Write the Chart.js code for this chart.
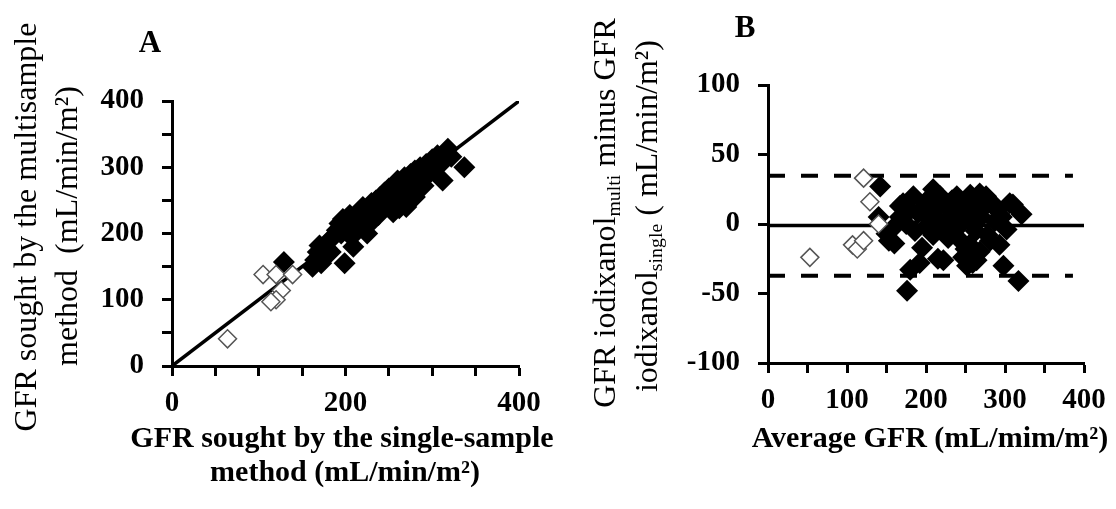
<!DOCTYPE html>
<html>
<head>
<meta charset="utf-8">
<script src="https://cdn.jsdelivr.net/npm/chart.js@4.4.0/dist/chart.umd.min.js"></script>
<style>
  body { margin: 0; background: #fff; width: 1116px; height: 509px; position: relative; overflow: hidden;
         font-family: 'Liberation Serif', 'Times New Roman', serif; color: #000; }
  canvas { position: absolute; top: 0; }
  .t { position: absolute; white-space: nowrap; transform: translate(-50%, -50%); }
  .r { transform: translate(-50%, -50%) rotate(-90deg); font-size: 32px; }
  .b { font-weight: bold; font-size: 30px; }
  .lab { font-weight: bold; font-size: 31px; }
  sub { font-size: 0.62em; vertical-align: -0.3em; line-height: 0; }
</style>
</head>
<body>
<canvas id="chartA" width="560" height="509" style="left:0"></canvas>
<canvas id="chartB" width="556" height="509" style="left:560px"></canvas>

<div class="t lab" style="left:150px;top:42px">A</div>
<div class="t r" style="left:25px;top:227px">GFR sought by the multisample</div>
<div class="t r" style="left:66px;top:226px">method&nbsp; (mL/min/m²)</div>
<div class="t b" style="left:342px;top:437px">GFR sought by the single-sample</div>
<div class="t b" style="left:345px;top:471px">method (mL/min/m²)</div>

<div class="t lab" style="left:745px;top:27px">B</div>
<div class="t r" style="left:604px;top:213px">GFR iodixanol<sub>multi</sub> minus GFR</div>
<div class="t r" style="left:646px;top:216px">iodixanol<sub>single</sub> ( mL/min/m²)</div>
<div class="t b" style="left:930px;top:437px">Average GFR (mL/mim/m²)</div>

<script>
// Panel A : single-sample GFR (x) vs multisample GFR (y)
const aHollowX = [64, 105, 120, 139, 126, 120, 114];
const aHollowY = [41, 138, 138, 138, 114, 100, 97];

const aFilledX = [162, 165, 168, 170, 172, 175, 178, 180, 183, 186, 190, 193, 195, 197, 199, 200, 203, 205, 207, 209,
                  210, 213, 215, 218, 220, 223, 225, 228, 230, 232, 235, 238, 240, 243, 245, 248, 250, 252, 255, 258,
                  260, 262, 265, 268, 270, 272, 275, 278, 280, 283, 286, 290, 293, 296, 300, 303, 306, 310, 312, 315,
                  318, 322, 337, 129, 270, 265, 255, 280];
const aFilledY = [150, 160, 172, 182, 155, 168, 178, 188, 172, 195, 205, 215, 200, 222, 155, 210, 218, 228, 195, 180,
                  205, 220, 232, 212, 240, 225, 200, 215, 246, 232, 250, 228, 255, 240, 262, 250, 268, 245, 258, 270,
                  280, 238, 265, 285, 250, 275, 290, 268, 295, 282, 300, 272, 305, 290, 312, 298, 318, 305, 280, 322,
                  328, 316, 300, 157, 240, 245, 232, 255];

const identityLine = [0, 400];

// Panel B : Bland-Altman, average GFR (x) vs difference (y)
const bHollowX = [53, 107, 113, 121, 121, 129, 140];
const bHollowY = [-24, -15, -18, -12, 33, 16, 0];

const bFilledX = [142, 140, 176, 317, 298, 209, 321, 306, 268, 150, 153, 160, 167, 167, 171, 175, 180, 184, 186, 190,
                  192, 195, 198, 200, 203, 205, 209, 212, 215, 218, 220, 222, 225, 228, 230, 233, 236, 239, 241, 244,
                  247, 249, 252, 254, 256, 259, 261, 263, 265, 268, 270, 273, 276, 278, 281, 284, 287, 290, 293, 296,
                  302, 310, 245, 235, 255, 250, 264, 200, 180, 158];
const bFilledY = [27, 5, -48, -41, -30, 25, 7, 15, 22, -7, -12, -14, 5, 13, 15, 0, -33, 20, -5, 8,
                  -28, -17, 12, -2, 18, 3, -8, 10, -25, 20, 0, -26, 13, -10, 5, 17, -3, 20, 8, -12,
                  -24, 14, -30, 3, 21, -28, 10, -5, 18, -20, 5, 12, 20, -8, -12, 15, 2, 10, -15, 5,
                  -4, 14, 0, 10, -15, -18, -26, 15, 10, -3];

const meanDiff = -1;
const upperLimit = 34.8;
const lowerLimit = -37.2;
const bMeanXRange = [0, 400];
const bLimitXRange = [0, 386];

function pairs(xs, ys) {
    return xs.map((x, i) => ({ x: x, y: ys[i] }));
}

const tickFont = { family: "'Liberation Serif', 'Times New Roman', serif", size: 29, weight: 'bold' };

function axis(min, max, labelEvery, fixedSize, isX) {
    return {
        type: 'linear',
        min: min,
        max: max,
        border: { display: true, color: '#000', width: 3 },
        grid: { drawOnChartArea: false, drawTicks: true, tickLength: 10, tickWidth: 3, tickColor: '#000' },
        ticks: {
            stepSize: 50,
            autoSkip: false,
            maxRotation: 0,
            color: '#000',
            font: tickFont,
            padding: isX ? 10 : 18,
            callback: function(v) { return v % labelEvery === 0 ? String(v) : ''; }
        },
        afterFit: function(scale) {
            if (isX) { scale.height = fixedSize; } else { scale.width = fixedSize; }
        }
    };
}

function hollowSet(data) {
    return { type: 'scatter', data: data, pointStyle: 'rectRot', pointRadius: 9, pointHoverRadius: 9,
             backgroundColor: '#fff', borderColor: '#555', pointBorderWidth: 1.5 };
}
function filledSet(data) {
    return { type: 'scatter', data: data, pointStyle: 'rectRot', pointRadius: 11, pointHoverRadius: 11,
             backgroundColor: '#000', borderColor: '#000', pointBorderWidth: 0 };
}
function lineSet(data, dash) {
    return { type: 'line', data: data, borderColor: '#000', borderWidth: dash ? 4 : 3.5, borderDash: dash || [],
             pointRadius: 0, fill: false, tension: 0 };
}

const commonPlugins = { legend: { display: false }, tooltip: { enabled: false }, title: { display: false } };

new Chart(document.getElementById('chartA'), {
    type: 'scatter',
    data: {
        datasets: [
            hollowSet(pairs(aHollowX, aHollowY)),
            filledSet(pairs(aFilledX, aFilledY)),
            lineSet(pairs(identityLine, identityLine))
        ]
    },
    options: {
        responsive: false,
        animation: false,
        layout: { padding: { left: 0, top: 101, right: 41, bottom: 0 } },
        plugins: commonPlugins,
        scales: {
            x: axis(0, 400, 200, 143, true),
            y: axis(0, 400, 100, 172, false)
        }
    }
});

new Chart(document.getElementById('chartB'), {
    type: 'scatter',
    data: {
        datasets: [
            hollowSet(pairs(bHollowX, bHollowY)),
            filledSet(pairs(bFilledX, bFilledY)),
            lineSet(pairs(bMeanXRange, [meanDiff, meanDiff])),
            lineSet(pairs(bLimitXRange, [upperLimit, upperLimit]), [17, 16]),
            lineSet(pairs(bLimitXRange, [lowerLimit, lowerLimit]), [17, 16])
        ]
    },
    options: {
        responsive: false,
        animation: false,
        layout: { padding: { left: 0, top: 85, right: 32, bottom: 0 } },
        plugins: commonPlugins,
        scales: {
            x: axis(0, 400, 100, 146, true),
            y: axis(-100, 100, 50, 208, false)
        }
    }
});
</script>
</body>
</html>
